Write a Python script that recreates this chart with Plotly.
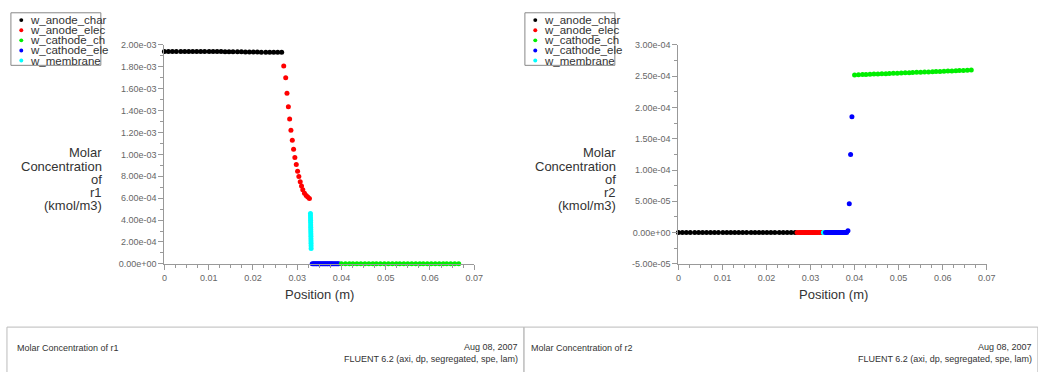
import plotly.graph_objects as go

W, H = 1038, 372

# legend labels as visible in the (clipped) reference legend boxes
legend_labels = ["w_anode_char", "w_anode_elec", "w_cathode_ch", "w_cathode_ele", "w_membrane"]
colors = ["#000000", "#ff0000", "#00ee00", "#0000ff", "#00ffff"]

# anode channel (black)
x_anode_ch = [0.0000, 0.0009, 0.0018, 0.0027, 0.0037, 0.0046, 0.0055, 0.0064, 0.0073, 0.0082,
              0.0091, 0.0101, 0.0110, 0.0119, 0.0128, 0.0137, 0.0146, 0.0155, 0.0165, 0.0174,
              0.0183, 0.0192, 0.0201, 0.0210, 0.0219, 0.0229, 0.0238, 0.0247, 0.0256, 0.0265]
r1_anode_ch = [1.940e-3, 1.940e-3, 1.940e-3, 1.940e-3, 1.940e-3, 1.940e-3, 1.940e-3, 1.940e-3,
               1.940e-3, 1.940e-3, 1.939e-3, 1.939e-3, 1.939e-3, 1.939e-3, 1.939e-3, 1.938e-3,
               1.938e-3, 1.938e-3, 1.937e-3, 1.937e-3, 1.936e-3, 1.936e-3, 1.935e-3, 1.935e-3,
               1.934e-3, 1.934e-3, 1.933e-3, 1.933e-3, 1.932e-3, 1.932e-3]
r2_anode_ch = [0.0] * 30

# anode electrode (red)
x_anode_el = [0.02696, 0.02741, 0.02770, 0.02801, 0.02830, 0.02859, 0.02890, 0.02919, 0.02948,
              0.02980, 0.03009, 0.03038, 0.03069, 0.03098, 0.03127, 0.03165, 0.03203, 0.03239, 0.03277]
r1_anode_el = [1.807e-3, 1.700e-3, 1.558e-3, 1.434e-3, 1.324e-3, 1.220e-3, 1.129e-3, 1.046e-3,
               0.972e-3, 0.907e-3, 0.847e-3, 0.797e-3, 0.749e-3, 0.711e-3, 0.676e-3, 0.646e-3,
               0.625e-3, 0.611e-3, 0.598e-3]
r2_anode_el = [0.0] * 19

# membrane (cyan)
x_membrane = [0.03300, 0.03301, 0.03302, 0.03303, 0.03304, 0.03305, 0.03306, 0.03307,
              0.03308, 0.03309, 0.03310, 0.03311, 0.03312, 0.03313, 0.03314, 0.03315]
r1_membrane = [4.60e-4, 4.40e-4, 4.19e-4, 3.98e-4, 3.77e-4, 3.56e-4, 3.35e-4, 3.14e-4,
               2.93e-4, 2.72e-4, 2.51e-4, 2.30e-4, 2.09e-4, 1.88e-4, 1.66e-4, 1.40e-4]
r2_membrane = [0.0] * 16

# cathode electrode (blue)
x_cathode_el = [0.0334, 0.0337, 0.0339, 0.0342, 0.0344, 0.0347, 0.0349, 0.0352, 0.0354, 0.0357,
                0.0359, 0.0362, 0.0364, 0.0367, 0.0369, 0.0372, 0.0374, 0.0377, 0.0379, 0.0382,
                0.0385, 0.0388, 0.0391, 0.0394]
r1_cathode_el = [0.0] * 24
r2_cathode_el = [0.0, 0.0, 0.0, 0.0, 0.0, 0.0, 0.0, 0.0, 0.0, 0.0,
                 0.0, 0.0, 0.0, 0.0, 0.0, 0.0, 0.0, 0.0, 0.0, 0.0,
                 3.0e-6, 4.6e-5, 1.25e-4, 1.85e-4]

# cathode channel (green)
x_cathode_ch = [0.0400, 0.0409, 0.0418, 0.0426, 0.0435, 0.0444, 0.0453, 0.0462, 0.0471, 0.0479,
                0.0488, 0.0497, 0.0506, 0.0515, 0.0524, 0.0532, 0.0541, 0.0550, 0.0559, 0.0568,
                0.0577, 0.0585, 0.0594, 0.0603, 0.0612, 0.0621, 0.0630, 0.0638, 0.0647, 0.0656, 0.0665]
r1_cathode_ch = [0.0] * 31
r2_cathode_ch = [2.520e-4, 2.523e-4, 2.525e-4, 2.528e-4, 2.530e-4, 2.533e-4, 2.535e-4, 2.538e-4,
                 2.540e-4, 2.543e-4, 2.546e-4, 2.548e-4, 2.551e-4, 2.553e-4, 2.556e-4, 2.558e-4,
                 2.561e-4, 2.563e-4, 2.566e-4, 2.568e-4, 2.571e-4, 2.573e-4, 2.576e-4, 2.579e-4,
                 2.581e-4, 2.584e-4, 2.586e-4, 2.589e-4, 2.591e-4, 2.594e-4, 2.597e-4]

x_ticks = [0, 0.01, 0.02, 0.03, 0.04, 0.05, 0.06, 0.07]
x_ticktext = ["0", "0.01", "0.02", "0.03", "0.04", "0.05", "0.06", "0.07"]
y1_ticks = [0, 2e-4, 4e-4, 6e-4, 8e-4, 1e-3, 1.2e-3, 1.4e-3, 1.6e-3, 1.8e-3, 2e-3]
y1_ticktext = ["0.00e+00", "2.00e-04", "4.00e-04", "6.00e-04", "8.00e-04", "1.00e-03",
               "1.20e-03", "1.40e-03", "1.60e-03", "1.80e-03", "2.00e-03"]
y2_ticks = [-5e-5, 0, 5e-5, 1e-4, 1.5e-4, 2e-4, 2.5e-4, 3e-4]
y2_ticktext = ["-5.00e-05", "0.00e+00", "5.00e-05", "1.00e-04", "1.50e-04", "2.00e-04",
               "2.50e-04", "3.00e-04"]

panel_titles = ["Molar Concentration of r1", "Molar Concentration of r2"]
y_title_lines = [["Molar", "Concentration", "of", "r1", "(kmol/m3)"],
                 ["Molar", "Concentration", "of", "r2", "(kmol/m3)"]]
x_title = "Position (m)"
date_text = "Aug 08, 2007"
solver_text = "FLUENT 6.2 (axi, dp, segregated, spe, lam)"

series_x = [x_anode_ch, x_anode_el, x_cathode_ch, x_cathode_el, x_membrane]
series_r1 = [r1_anode_ch, r1_anode_el, r1_cathode_ch, r1_cathode_el, r1_membrane]
series_r2 = [r2_anode_ch, r2_anode_el, r2_cathode_ch, r2_cathode_el, r2_membrane]
draw_order = [0, 1, 4, 3, 2]

FONT = "Liberation Sans, Arial, sans-serif"
NARROW = "Liberation Sans Narrow, Liberation Sans, Arial, sans-serif"

fig = go.Figure()
for i in draw_order:
    fig.add_trace(go.Scatter(x=series_x[i], y=series_r1[i], mode="markers", name=legend_labels[i],
                             marker=dict(color=colors[i], size=5), cliponaxis=False,
                             showlegend=False, xaxis="x", yaxis="y"))
for i in draw_order:
    fig.add_trace(go.Scatter(x=series_x[i], y=series_r2[i], mode="markers", name=legend_labels[i],
                             marker=dict(color=colors[i], size=5), cliponaxis=False,
                             showlegend=False, xaxis="x2", yaxis="y2"))

def px(x):
    return x / W

def py(y):
    return 1 - y / H

OFF = 520
ydom = [py(266), py(41)]

axis_common = dict(showgrid=False, zeroline=False, showline=True, linecolor="#999999",
                   linewidth=1, ticks="outside", ticklen=5, tickcolor="#999999",
                   tickfont=dict(family=FONT, size=9, color="#666666"), tickmode="array")

fig.update_layout(
    width=W, height=H, autosize=False,
    margin=dict(l=0, r=0, t=0, b=0),
    paper_bgcolor="white", plot_bgcolor="white",
    xaxis=dict(domain=[px(163.3), px(476.7)], range=[0, 0.07], anchor="y",
               tickvals=x_ticks, ticktext=x_ticktext,
               minor=dict(dtick=0.0025, tick0=0, ticklen=3, tickcolor="#999999", ticks="outside"),
               **axis_common),
    yaxis=dict(domain=ydom, range=[0, 2e-3], anchor="x",
               tickvals=y1_ticks, ticktext=y1_ticktext,
               minor=dict(dtick=1e-4, tick0=0, ticklen=3, tickcolor="#999999", ticks="outside"),
               **axis_common),
    xaxis2=dict(domain=[px(163.3 + OFF), px(476.7 + OFF - 1.5)], range=[0, 0.07], anchor="y2",
                tickvals=x_ticks, ticktext=x_ticktext,
                minor=dict(dtick=0.0025, tick0=0, ticklen=3, tickcolor="#999999", ticks="outside"),
                **axis_common),
    yaxis2=dict(domain=ydom, range=[-5e-5, 3e-4], anchor="x2",
                tickvals=y2_ticks, ticktext=y2_ticktext,
                minor=dict(dtick=2.5e-5, tick0=0, ticklen=3, tickcolor="#999999", ticks="outside"),
                **axis_common),
)

shapes = []
annotations = []
for p in range(2):
    off = p * OFF
    # legend box
    shapes.append(dict(type="rect", xref="paper", yref="paper",
                       x0=px(8 + off), x1=px(99 + off), y0=py(62), y1=py(8),
                       line=dict(color="#888888", width=1), fillcolor="white", layer="above"))
    for k in range(5):
        yc = 15.5 + k * 10.4
        shapes.append(dict(type="circle", xref="paper", yref="paper",
                           x0=px(16.5 + off), x1=px(20.5 + off), y0=py(yc + 2), y1=py(yc - 2),
                           line=dict(width=0), fillcolor=colors[k], layer="above"))
        annotations.append(dict(xref="paper", yref="paper", x=px(26 + off), y=py(yc),
                                text=legend_labels[k], showarrow=False, xanchor="left",
                                yanchor="middle", borderpad=0,
                                font=dict(family=FONT, size=11.5, color="#333333")))
    # y title (one annotation per line for tight line spacing)
    for j, line in enumerate(y_title_lines[p]):
        annotations.append(dict(xref="paper", yref="paper", x=px(101 + off), y=py(152 + j * 13.5),
                                text=line, showarrow=False, xanchor="right", yanchor="middle",
                                borderpad=0, font=dict(family=FONT, size=13, color="#333333")))
    # x title
    annotations.append(dict(xref="paper", yref="paper", x=px(320 + off), y=py(298),
                            text=x_title, showarrow=False, xanchor="center", yanchor="middle",
                            font=dict(family=FONT, size=13, color="#333333")))
    # footer box
    shapes.append(dict(type="rect", xref="paper", yref="paper",
                       x0=px(4 if p == 0 else 527), x1=px(527 + off), y0=py(380), y1=py(331),
                       line=dict(color="#bbbbbb", width=1)))
    annotations.append(dict(xref="paper", yref="paper", x=px(12 + off), y=py(352),
                            text=panel_titles[p], showarrow=False, xanchor="left", yanchor="middle",
                            font=dict(family=NARROW, size=9, color="#333333")))
    annotations.append(dict(xref="paper", yref="paper", x=px(523 + off), y=py(351),
                            text=date_text, showarrow=False, xanchor="right", yanchor="middle",
                            font=dict(family=NARROW, size=9, color="#333333")))
    annotations.append(dict(xref="paper", yref="paper", x=px(523 + off), y=py(364),
                            text=solver_text, showarrow=False, xanchor="right", yanchor="middle",
                            font=dict(family=NARROW, size=9, color="#333333")))

fig.update_layout(shapes=shapes, annotations=annotations)
fig.write_html("out.html")
